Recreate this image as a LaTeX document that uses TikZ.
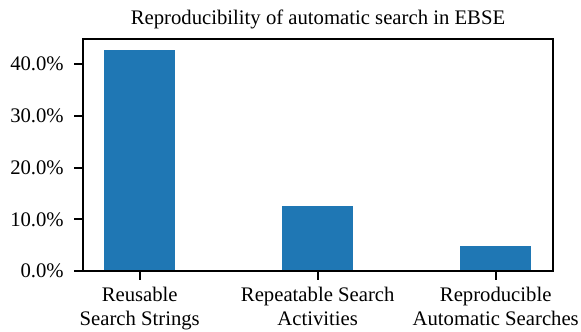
\documentclass[tikz,border=0pt]{standalone}
\usepackage{fontspec}
\setmainfont{LiberationSerif}[Extension=.ttf, UprightFont=*-Regular, BoldFont=*-Bold]
\definecolor{barblue}{HTML}{1F77B4}
\tikzset{
    axisline/.style={line width=2pt, black},
    ticklabel/.style={inner sep=0pt, font=\fontsize{20.7}{23.5}\selectfont},
    barfill/.style={fill=barblue, draw=none}
}

\begin{document}
\begin{tikzpicture}[x=1pt, y=1pt]
        \useasboundingbox (0,0) rectangle (581,332);
        \node[ticklabel, anchor=base] (title) at (318,307) {Reproducibility of automatic search in EBSE};
        % data part: one unit per category, one unit per percent
        \begin{scope}[shift={(139.7,61)}, x=178pt, y=5.17pt]
            \coordinate (origin) at (-0.32,0);
            \coordinate (corner) at (2.32,44.9);
            \foreach \i/\v in {0/42.75, 1/12.6, 2/4.85}
                \fill[barfill] (\i-0.2,0) rectangle (\i+0.2,\v);
            \foreach \t in {0,10,...,40} {
                \coordinate (ytick\t) at (-0.32,\t);
                \draw[axisline] (ytick\t) -- ++(-9pt,0)
                    node[ticklabel, anchor=east, xshift=-9pt] (ylab\t) {\t.0\%};
            }
            \foreach \i/\txt in {0/{Reusable\\Search Strings}, 1/{Repeatable Search\\Activities}, 2/{Reproducible\\Automatic Searches}} {
                \coordinate (xtick\i) at (\i,0);
                \draw[axisline] (xtick\i) -- ++(0,-9pt);
                \node[ticklabel, align=center, anchor=north] (xlab\i) at ([yshift=-16pt]xtick\i) {\txt};
            }
            \draw[axisline, line cap=rect] (origin) rectangle (corner);
        \end{scope}
    \end{tikzpicture}
\end{document}
